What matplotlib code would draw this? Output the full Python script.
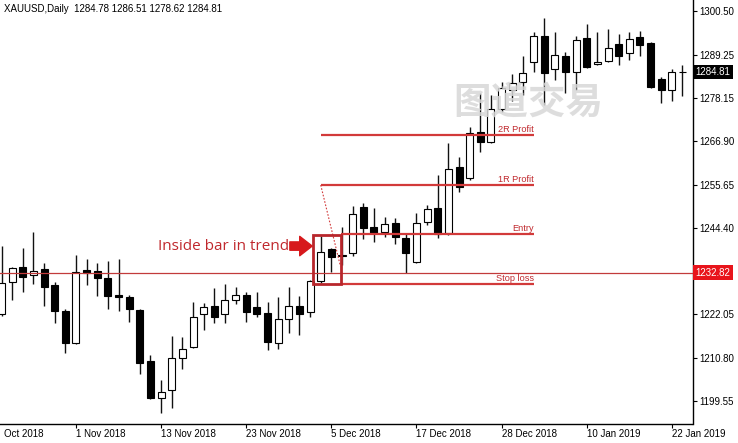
import matplotlib

matplotlib.use("Agg")

import matplotlib.pyplot as plt
import numpy as np
from matplotlib.patches import Rectangle
from matplotlib.transforms import blended_transform_factory

# daily XAUUSD candles, 23 Oct 2018 .. 23 Jan 2019
OPENS = [
    1222.09, 1230.46, 1234.35, 1232.20, 1233.68, 1229.53, 1222.95, 1214.65,
    1233.50, 1233.31, 1231.50, 1226.94, 1226.42, 1223.13, 1209.99, 1200.40,
    1202.39, 1210.61, 1213.61, 1222.01, 1224.16, 1222.01, 1225.72, 1227.02,
    1223.98, 1222.27, 1214.50, 1220.72, 1224.24, 1222.53, 1230.72, 1238.94,
    1237.25, 1237.82, 1249.90, 1244.72, 1243.27, 1245.76, 1241.71, 1235.49,
    1246.02, 1249.64, 1243.01, 1260.27, 1257.26, 1269.34, 1266.75, 1275.23,
    1280.15, 1282.15, 1287.49, 1294.15, 1285.52, 1289.04, 1284.90, 1293.55,
    1286.89, 1287.75, 1292.08, 1289.66, 1293.81, 1292.41, 1283.00, 1280.15,
    1284.78,
]
HIGHS = [
    1239.72, 1234.27, 1239.12, 1243.42, 1235.39, 1230.46, 1223.31, 1237.38,
    1236.35, 1235.23, 1235.83, 1236.35, 1227.02, 1223.31, 1211.46, 1204.98,
    1216.39, 1216.21, 1225.28, 1225.02, 1228.75, 1229.87, 1229.17, 1227.87,
    1227.87, 1225.28, 1226.58, 1229.01, 1226.76, 1230.90, 1242.20, 1239.20,
    1244.64, 1250.08, 1250.94, 1249.49, 1247.31, 1246.90, 1243.01, 1248.19,
    1250.34, 1258.12, 1266.41, 1262.86, 1270.48, 1279.30, 1278.86, 1282.30,
    1284.22, 1288.96, 1295.26, 1298.74, 1295.26, 1290.08, 1294.15, 1297.26,
    1295.26, 1295.96, 1294.67, 1295.11, 1295.44, 1292.60, 1283.60, 1285.52,
    1286.51,
]
LOWS = [
    1221.57, 1225.72, 1227.87, 1229.87, 1224.16, 1219.68, 1211.90, 1214.44,
    1229.61, 1226.76, 1223.31, 1222.87, 1220.10, 1206.54, 1200.06, 1196.35,
    1197.65, 1207.76, 1213.20, 1217.94, 1219.84, 1219.68, 1224.68, 1220.10,
    1221.39, 1212.76, 1212.94, 1217.09, 1216.65, 1221.24, 1230.00, 1233.06,
    1234.79, 1237.12, 1241.45, 1240.83, 1241.97, 1240.24, 1232.80, 1235.39,
    1245.16, 1241.71, 1242.57, 1253.79, 1256.82, 1264.16, 1266.50, 1274.53,
    1277.38, 1278.86, 1284.74, 1276.26, 1282.74, 1279.30, 1280.15, 1285.80,
    1286.76, 1287.49, 1286.63, 1287.93, 1288.96, 1280.75, 1276.70, 1277.38,
    1278.62,
]
CLOSES = [
    1230.13, 1233.94, 1231.76, 1233.31, 1229.17, 1222.87, 1214.50, 1233.06,
    1232.80, 1231.34, 1226.76, 1226.42, 1223.31, 1209.31, 1200.24, 1201.95,
    1210.61, 1213.02, 1221.24, 1223.83, 1221.24, 1225.72, 1227.09, 1222.69,
    1222.09, 1214.91, 1220.80, 1224.16, 1222.01, 1230.64, 1238.24, 1236.79,
    1237.51, 1248.01, 1244.30, 1243.01, 1245.42, 1241.97, 1237.82, 1245.76,
    1249.23, 1242.83, 1259.60, 1255.09, 1268.93, 1266.75, 1275.23, 1280.59,
    1281.89, 1284.48, 1294.15, 1284.64, 1289.22, 1284.90, 1293.11, 1286.04,
    1287.33, 1291.12, 1289.04, 1293.29, 1291.82, 1281.01, 1280.15, 1284.90,
    1284.81,
]

# the first label is cut by the left edge in the original, only "Oct 2018" shows
DATE_LABELS = [
    "Oct 2018", "1 Nov 2018", "13 Nov 2018", "23 Nov 2018", "5 Dec 2018",
    "17 Dec 2018", "28 Dec 2018", "10 Jan 2019", "22 Jan 2019",
]
DATE_LABEL_BARS = [0.2, 7, 15, 23, 31, 39, 47, 55, 63]
PRICE_TICKS = [1300.50, 1289.25, 1278.15, 1266.90, 1255.65, 1244.40, 1222.05, 1210.80, 1199.55]

# trade setup
MOTHER_BAR = 30
INSIDE_BAR = 31
LEVEL_NAMES = ["2R Profit", "1R Profit", "Entry", "Stop loss"]
LEVEL_PRICES = [1268.36, 1255.53, 1242.70, 1229.87]
LEVEL_START_BARS = [30.0, 30.0, 31.9, 31.9]
LEVEL_END_BAR = 50.0
LAST_PRICE_LINE = 1232.82
BID_PRICE = 1284.81

RED_TEXT = "#c0282d"
RED_LINE = "#d23a3a"


def main() -> None:
    plt.rcParams["font.family"] = ["Liberation Sans", "DejaVu Sans"]
    figure = plt.figure(figsize=(7.38, 4.43), dpi=100)
    axis = figure.add_axes([0.0, 19 / 443, 692.5 / 738, 424 / 443])

    opens = np.array(OPENS)
    closes = np.array(CLOSES)
    x = np.arange(len(opens))
    rising = closes >= opens

    axis.vlines(x, LOWS, HIGHS, color="#111111", linewidth=1.0, zorder=3)
    axis.bar(
        x,
        np.maximum(np.abs(closes - opens), 0.15),
        bottom=np.minimum(opens, closes),
        width=0.66,
        color=np.where(rising, "white", "black"),
        edgecolor="black",
        linewidth=0.8,
        zorder=4,
    )

    axis.set_xlim(-0.141, 64.94)
    axis.set_ylim(1193.58, 1303.48)

    # thin price line across the chart
    axis.axhline(LAST_PRICE_LINE, color="#c23b3b", linewidth=0.9, zorder=5)

    # trade levels
    for name, price, start in zip(LEVEL_NAMES, LEVEL_PRICES, LEVEL_START_BARS):
        axis.hlines(price, start, LEVEL_END_BAR, color=RED_LINE, linewidth=1.6, zorder=5)
        axis.text(
            LEVEL_END_BAR, price + 0.35, name, ha="right", va="bottom",
            fontsize=6.6, color=RED_TEXT, zorder=6,
        )
    axis.plot(
        [30.0, 31.85], [LEVEL_PRICES[1], 1234.5],
        color=RED_LINE, linewidth=0.8, linestyle=(0, (1.5, 1.5)), zorder=5,
    )

    # box round the mother bar and the inside bar
    box_low = LOWS[MOTHER_BAR] - 0.1
    box_high = HIGHS[MOTHER_BAR] + 0.4
    axis.add_patch(
        Rectangle(
            (MOTHER_BAR - 0.7, box_low), INSIDE_BAR + 0.88 - (MOTHER_BAR - 0.7),
            box_high - box_low, fill=False, edgecolor="#b8262b", linewidth=2.0, zorder=6,
        )
    )

    axis.annotate(
        "", xy=(29.2, 1239.7), xytext=(27.1, 1239.7),
        arrowprops=dict(
            arrowstyle="simple,head_length=0.9,head_width=1.4,tail_width=0.6",
            color="#d7191c", mutation_scale=10, shrinkA=0, shrinkB=0,
        ),
        zorder=6,
    )
    axis.text(
        27.0, 1239.7, "Inside bar in trend", ha="right", va="center",
        fontsize=11, color=RED_TEXT, family=["Open Sans", "DejaVu Sans"], zorder=6,
    )

    # watermark
    axis.text(
        49.5, 1276.8, "图道交易", ha="center", va="center", fontsize=27,
        color="#d8d8d8", fontweight="bold", alpha=0.85,
        family=["Noto Sans CJK SC", "DejaVu Sans"], zorder=7,
    )

    # spines and ticks
    for side in ["left", "top"]:
        axis.spines[side].set_visible(False)
    axis.spines["right"].set_linewidth(1.0)
    axis.spines["bottom"].set_linewidth(1.0)
    axis.yaxis.tick_right()
    axis.set_yticks(PRICE_TICKS)
    axis.set_yticklabels([f"{value:.2f}" for value in PRICE_TICKS])
    axis.tick_params(axis="y", direction="out", length=3, width=0.8, labelsize=7, pad=2)
    axis.set_xticks(DATE_LABEL_BARS[1:])
    axis.set_xticklabels([])
    axis.tick_params(axis="x", direction="out", length=3, width=0.8)

    label_transform = blended_transform_factory(axis.transData, axis.transAxes)
    for label, bar in zip(DATE_LABELS, DATE_LABEL_BARS):
        axis.text(
            bar, -0.012, label, transform=label_transform, ha="left", va="top",
            fontsize=7, clip_on=False,
        )

    # price boxes on the right axis
    axis_transform = blended_transform_factory(axis.transAxes, axis.transData)
    axis.text(
        1.004, LAST_PRICE_LINE, f"{LAST_PRICE_LINE:.2f}", transform=axis_transform,
        ha="left", va="center", fontsize=7, color="white", clip_on=False, zorder=8,
        bbox=dict(boxstyle="square,pad=0.25", facecolor="#e8141b", edgecolor="none"),
    )
    axis.text(
        1.004, BID_PRICE, f"{BID_PRICE:.2f}", transform=axis_transform,
        ha="left", va="center", fontsize=7, color="white", clip_on=False, zorder=8,
        bbox=dict(boxstyle="square,pad=0.25", facecolor="black", edgecolor="none"),
    )

    figure.text(
        4 / 738, 1 - 9 / 443, "XAUUSD,Daily  1284.78 1286.51 1278.62 1284.81",
        ha="left", va="center", fontsize=7,
    )

    figure.savefig("out.png", dpi=100)
    plt.close(figure)


if __name__ == "__main__":
    main()
